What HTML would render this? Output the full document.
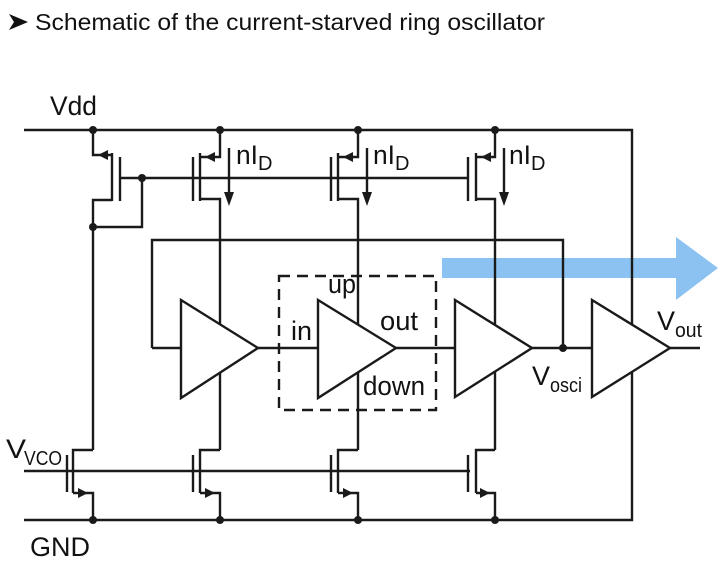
<!DOCTYPE html>
<html><head><meta charset="utf-8"><style>
html,body{margin:0;padding:0;background:#fff;}
svg{display:block;}
text{font-family:"Liberation Sans",sans-serif;fill:#111;}
</style></head><body>
<svg width="718" height="571" viewBox="0 0 718 571" xmlns="http://www.w3.org/2000/svg">
<polygon points="9,14 28,22 9,30 14,22" fill="#111"/>
<text x="35" y="30" font-size="23" textLength="510" lengthAdjust="spacingAndGlyphs">Schematic of the current-starved ring oscillator</text>

<polygon points="442,258 676,258 676,237 718,268 676,300 676,278 442,278" fill="#8cc2f2"/>

<g stroke="#1a1a1a" stroke-width="2.4" fill="none">
<polyline points="24,130 632,130 632,520 24,520"/>
<line x1="24" y1="471" x2="470" y2="471"/>

<polyline points="93,130 93,155 112,155"/>
<line x1="112" y1="153" x2="112" y2="201"/>
<line x1="120" y1="157" x2="120" y2="201"/>
<polyline points="112,200 93,200 93,450"/>
<polyline points="93,227 142,227 142,178"/>
<line x1="120" y1="178" x2="468" y2="178"/>

<polyline points="220,130 220,157 200,157"/>
<line x1="200" y1="153" x2="200" y2="201"/>
<line x1="193" y1="157" x2="193" y2="201"/>
<polyline points="200,199 220,199 220,450"/>
<polyline points="358,130 358,157 338,157"/>
<line x1="338" y1="153" x2="338" y2="201"/>
<line x1="331" y1="157" x2="331" y2="201"/>
<polyline points="338,199 358,199 358,450"/>
<polyline points="495,130 495,157 476,157"/>
<line x1="476" y1="153" x2="476" y2="201"/>
<line x1="468" y1="157" x2="468" y2="201"/>
<polyline points="476,199 495,199 495,450"/>

<line x1="229" y1="148" x2="229" y2="196"/>
<line x1="367" y1="148" x2="367" y2="196"/>
<line x1="504" y1="148" x2="504" y2="196"/>

<polyline points="93,450 73,450 73,493"/>
<line x1="67" y1="455" x2="67" y2="492"/>
<polyline points="73,493 93,493 93,520"/>
<polyline points="220,450 200,450 200,493"/>
<line x1="193" y1="455" x2="193" y2="492"/>
<polyline points="200,493 220,493 220,520"/>
<polyline points="358,450 338,450 338,493"/>
<line x1="331" y1="455" x2="331" y2="492"/>
<polyline points="338,493 358,493 358,520"/>
<polyline points="495,450 476,450 476,493"/>
<line x1="468" y1="455" x2="468" y2="492"/>
<polyline points="476,493 495,493 495,520"/>

<polyline points="152,348 152,240 563,240 563,348"/>
<line x1="152" y1="348" x2="181" y2="348"/>
<line x1="258" y1="348" x2="318" y2="348"/>
<line x1="396" y1="348" x2="455" y2="348"/>
<line x1="532" y1="348" x2="592" y2="348"/>
<line x1="670" y1="348" x2="700" y2="348"/>

<polygon points="181,300 181,398 258,348" fill="#fff"/>
<polygon points="318,300 318,398 396,348" fill="#fff"/>
<polygon points="455,300 455,397 532,348" fill="#fff"/>
<polygon points="592,300 592,397 670,348" fill="#fff"/>

<rect x="279" y="276" width="157" height="134" stroke-dasharray="11,7"/>
</g>
<g fill="#fff">
<polygon points="183,304 183,394 254,348"/>
<polygon points="320,304 320,394 392,348"/>
<polygon points="457,304 457,393 528,348"/>
<polygon points="594,304 594,393 666,348"/>
</g>

<g fill="#1a1a1a">
<polygon points="98,155 108,150 108,160"/>
<polygon points="205,157 215,152 215,162"/>
<polygon points="343,157 353,152 353,162"/>
<polygon points="481,157 491,152 491,162"/>
<polygon points="224,192 234,192 229,206"/>
<polygon points="362,192 372,192 367,206"/>
<polygon points="499,192 509,192 504,206"/>
<polygon points="88,493 78,488 78,498"/>
<polygon points="215,493 205,488 205,498"/>
<polygon points="353,493 343,488 343,498"/>
<polygon points="490,493 480,488 480,498"/>
<circle cx="93" cy="130" r="4"/><circle cx="220" cy="130" r="4"/><circle cx="358" cy="130" r="4"/><circle cx="495" cy="130" r="4"/>
<circle cx="142" cy="178" r="4"/><circle cx="93" cy="227" r="4"/>
<circle cx="93" cy="520" r="4"/><circle cx="220" cy="520" r="4"/><circle cx="358" cy="520" r="4"/><circle cx="495" cy="520" r="4"/>
<circle cx="563" cy="348" r="4"/>
</g>

<g font-size="27">
<text x="50" y="115" textLength="47" lengthAdjust="spacingAndGlyphs">Vdd</text>
<text x="30" y="556" textLength="60" lengthAdjust="spacingAndGlyphs">GND</text>
<text x="6" y="458" textLength="20" lengthAdjust="spacingAndGlyphs">V</text>
<text x="24" y="465" font-size="20" textLength="38" lengthAdjust="spacingAndGlyphs">VCO</text>
<text x="236" y="164" textLength="22" lengthAdjust="spacingAndGlyphs">nI</text>
<text x="258" y="170" font-size="20">D</text>
<text x="373" y="164" textLength="22" lengthAdjust="spacingAndGlyphs">nI</text>
<text x="395" y="170" font-size="20">D</text>
<text x="509" y="164" textLength="22" lengthAdjust="spacingAndGlyphs">nI</text>
<text x="531" y="170" font-size="20">D</text>
<text x="291" y="340" textLength="21" lengthAdjust="spacingAndGlyphs">in</text>
<text x="328" y="293" textLength="28" lengthAdjust="spacingAndGlyphs">up</text>
<text x="380" y="330" textLength="38" lengthAdjust="spacingAndGlyphs">out</text>
<text x="363" y="395" textLength="62" lengthAdjust="spacingAndGlyphs">down</text>
<text x="532" y="385" textLength="18" lengthAdjust="spacingAndGlyphs">V</text>
<text x="550" y="392" font-size="20" textLength="32" lengthAdjust="spacingAndGlyphs">osci</text>
<text x="657" y="330" textLength="18" lengthAdjust="spacingAndGlyphs">V</text>
<text x="675" y="337" font-size="20" textLength="27" lengthAdjust="spacingAndGlyphs">out</text>
</g>
</svg>
</body></html>
